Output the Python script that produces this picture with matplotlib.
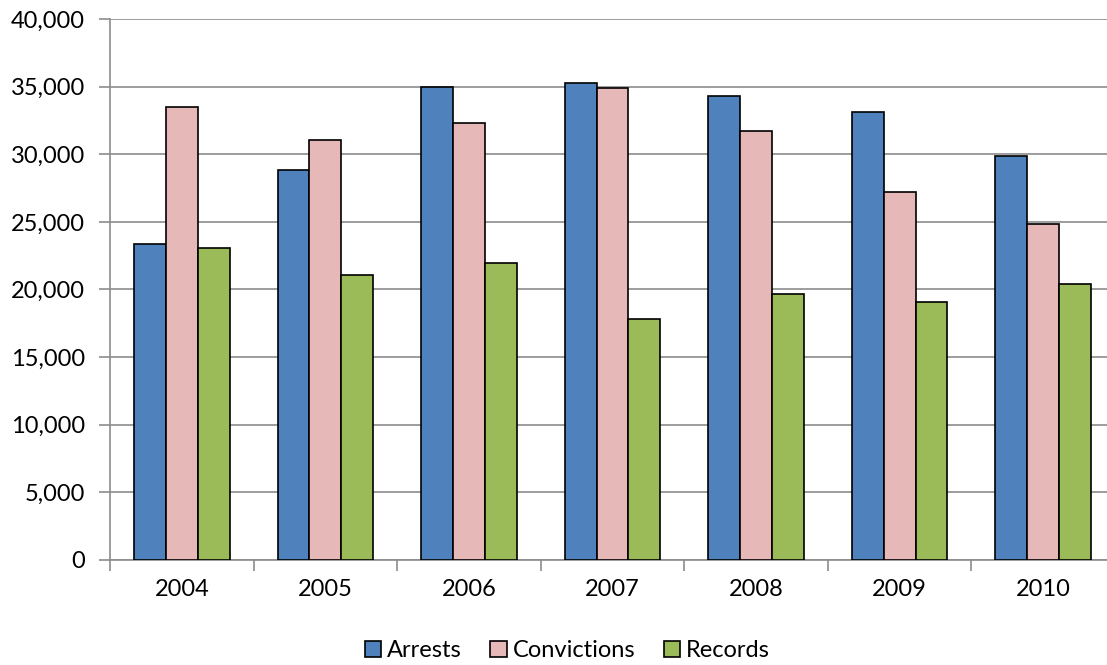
import numpy as np
import matplotlib.pyplot as plt
from matplotlib.ticker import FuncFormatter, FixedLocator

years = ['2004', '2005', '2006', '2007', '2008', '2009', '2010']
arrests = [23400, 28800, 35000, 35270, 34300, 33100, 29900]
convictions = [33500, 31050, 32300, 34900, 31700, 27200, 24850]
records = [23070, 21050, 21960, 17820, 19670, 19080, 20420]

plt.rcParams['font.family'] = ['Lato', 'DejaVu Sans']
plt.rcParams['font.size'] = 17

fig = plt.figure(figsize=(11.07, 6.65), dpi=100)
# plot area runs past the right edge of the picture, as in the reference
ax = fig.add_axes([110/1107, 1 - 560/665, 1005/1107, (560-19)/665])

x = np.arange(len(years))
w = 0.222
series = [(arrests, '#4F81BD', 'Arrests'),
          (convictions, '#E6B9B8', 'Convictions'),
          (records, '#9BBB59', 'Records')]
for i, (vals, col, name) in enumerate(series):
    ax.bar(x + (i - 1) * w, vals, w, color=col, edgecolor='black', linewidth=1.2, label=name, zorder=3)

ax.set_xlim(-0.5, len(years) - 0.5)
ax.set_ylim(0, 40000)
ax.set_yticks(range(0, 40001, 5000))
ax.yaxis.set_major_formatter(FuncFormatter(lambda v, p: f'{int(v):,}'))
ax.yaxis.grid(True, color='#8C8C8C', linewidth=1.2, zorder=0)
ax.set_xticks(x)
ax.set_xticklabels(years)
ax.tick_params(axis='x', length=0, pad=14)
ax.xaxis.set_minor_locator(FixedLocator(np.arange(-0.5, len(years), 1)))
ax.tick_params(axis='x', which='minor', length=8, width=1.2, color='#8C8C8C')
ax.tick_params(axis='y', length=8, width=1.2, color='#8C8C8C', direction='out', pad=10)
for s in ['top', 'right']:
    ax.spines[s].set_visible(False)
for s in ['left', 'bottom']:
    ax.spines[s].set_color('#8C8C8C')
    ax.spines[s].set_linewidth(1.2)

ax.legend(loc='center', bbox_to_anchor=(0.455, -0.168), ncol=3, frameon=False,
          handlelength=0.7, handleheight=0.7, handletextpad=0.25, columnspacing=1.2)

fig.savefig('out.png', dpi=100)
